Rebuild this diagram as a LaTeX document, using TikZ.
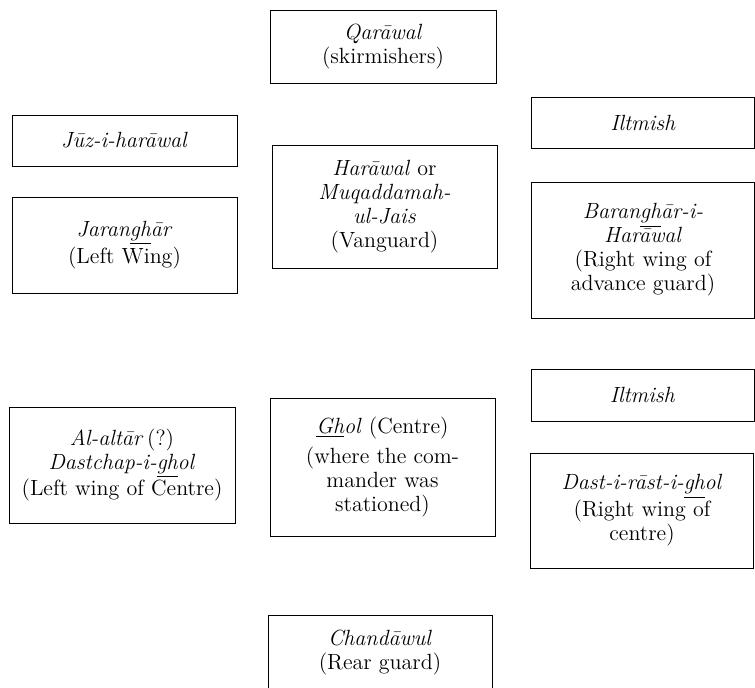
\documentclass[tikz,border=0pt]{standalone}
\begin{document}
\begin{tikzpicture}[x=0.5pt, y=-0.5pt,
  troop/.style={draw, line width=0.5pt, align=center, inner sep=0pt,
    font=\fontsize{11}{12}\selectfont}]
  \def\Wbox{112.5pt};
  \def\Wright{111.5pt};
  \useasboundingbox (0,0) rectangle (755,687);
  % front
  \node[troop, minimum width=113pt, minimum height=36.5pt] (qarawal) at (383, 46.5)
    {\textit{Qar\=awal}\\(skirmishers)};
  \node[troop, minimum width=\Wbox, minimum height=25.5pt] (juz) at (124.5, 140.5)
    {\textit{J\=uz-i-har\=awal}};
  \node[troop, minimum width=\Wbox, minimum height=48pt] (jaranghar) at (124.5, 245)
    {\textit{Jaran\underline{gh}\=ar}\\(Left Wing)};
  \node[troop, minimum width=\Wbox, minimum height=61.5pt] (harawal) at (384.5, 206.5)
    {\textit{Har\=awal} or\\\textit{Muqaddamah-}\\\textit{ul-Jais}\\(Vanguard)};
  \node[troop, minimum width=\Wright, minimum height=25.5pt] (iltmishA) at (643, 122.5)
    {\textit{Iltmish}};
  \node[troop, minimum width=\Wright, minimum height=68pt] (baranghar) at (643, 250)
    {\textit{Baran\underline{gh}\=ar-i-}\\\textit{Har\=awal}\\(Right wing of\\advance guard)};

  % centre
  \node[troop, minimum width=113pt, minimum height=58pt] (altar) at (122, 465)
    {\textit{Al-alt\=ar}\,(?)\\\textit{Dastchap-i-\underline{gh}ol}\\(Left wing of Centre)};
  \node[troop, minimum width=\Wbox, minimum height=69pt] (ghol) at (382.5, 467)
    {\textit{\underline{Gh}ol} (Centre)\\[3pt](where the com-\\mander was\\stationed)};
  \node[troop, minimum width=\Wright, minimum height=26pt] (iltmishB) at (642.5, 395)
    {\textit{Iltmish}};
  \node[troop, minimum width=\Wright, minimum height=57.5pt] (dast) at (642, 510.5)
    {\textit{Dast-i-r\=ast-i-\underline{gh}ol}\\(Right wing of\\centre)};

  % rear
  \node[troop, minimum width=112pt, minimum height=38pt] (chandawul) at (380, 653)
    {\textit{Chand\=awul}\\(Rear guard)};
\end{tikzpicture}
\end{document}
